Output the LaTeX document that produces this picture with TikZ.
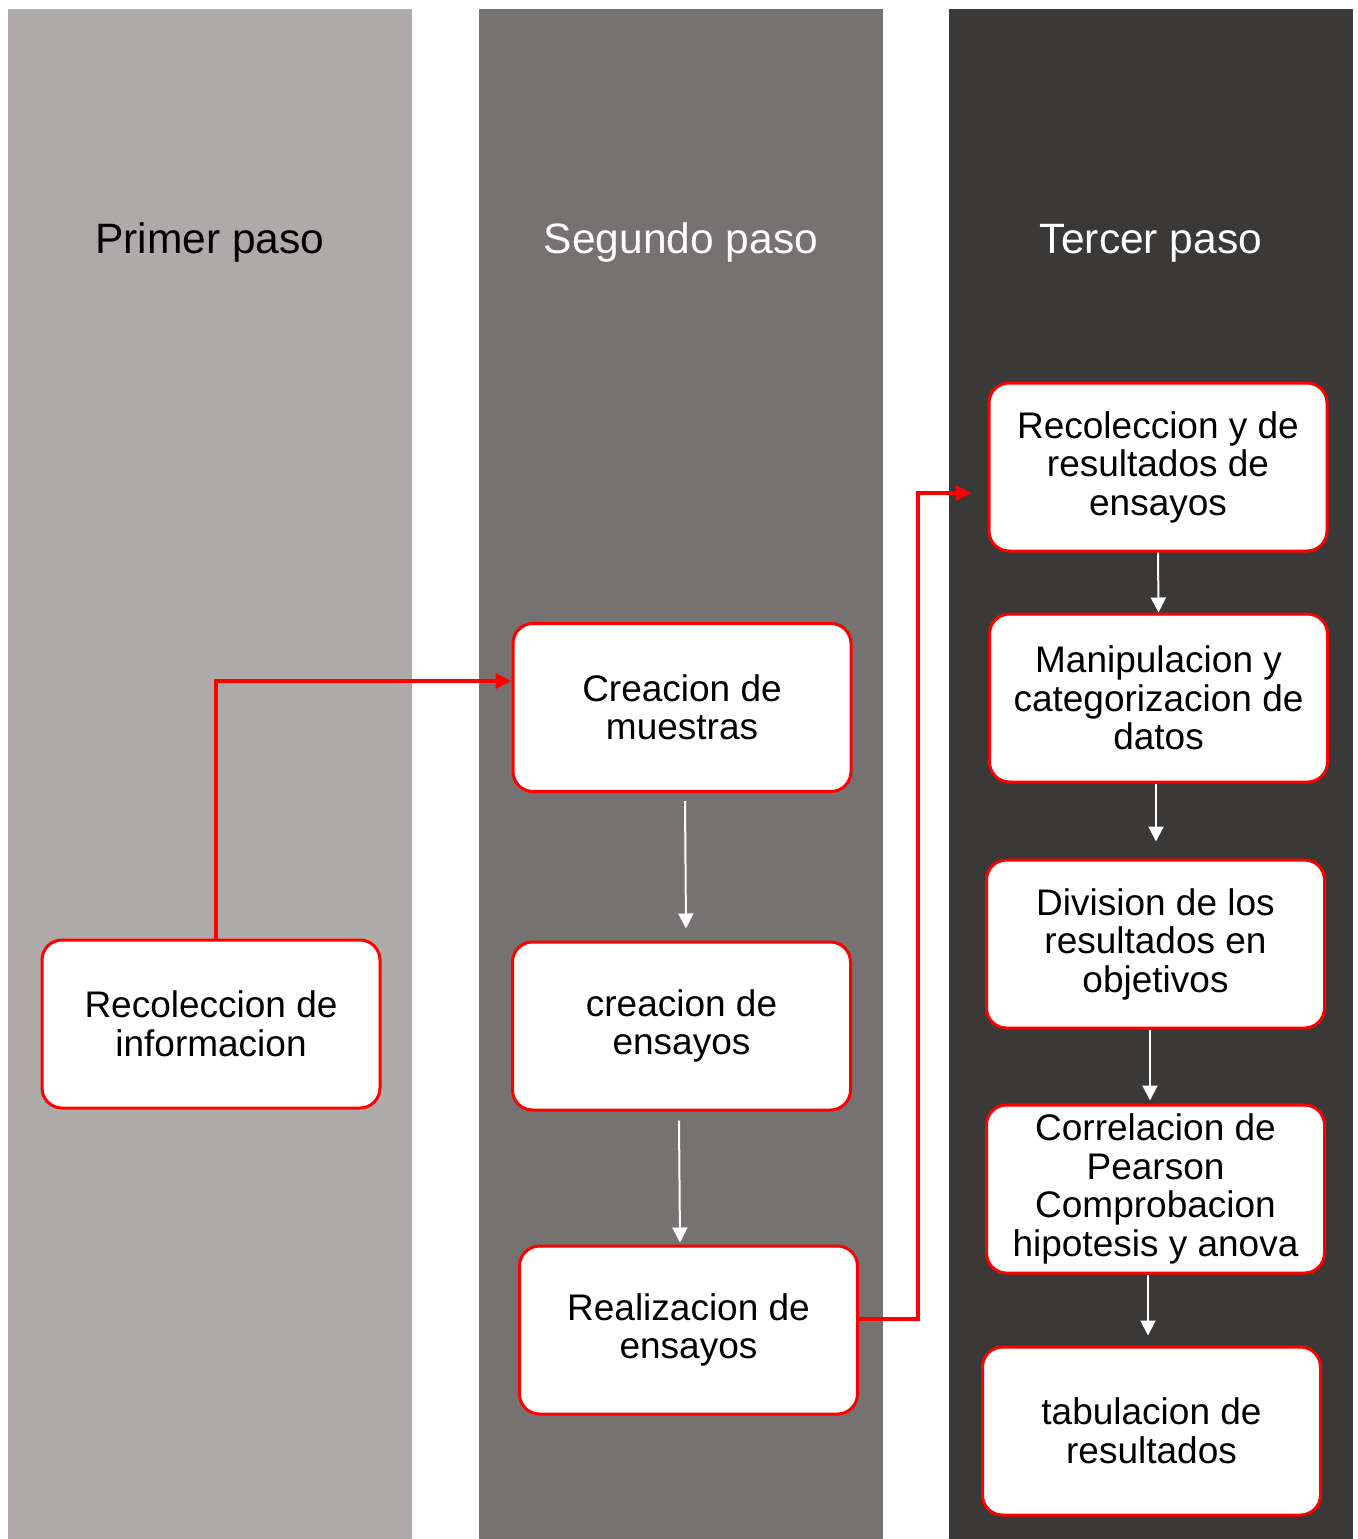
\documentclass[tikz,border=0pt]{standalone}
\usepackage{fontspec}
\setmainfont{Liberation Sans}
\usetikzlibrary{arrows.meta,calc}
\definecolor{colA}{HTML}{AEAAA9}
\definecolor{colB}{HTML}{767271}
\definecolor{colC}{HTML}{3B3938}
\definecolor{boxred}{HTML}{FF0000}
\tikzset{
  stepbox/.style={draw=boxred, line width=3pt, fill=white, rounded corners=20pt,
    minimum width=338pt, minimum height=168pt, inner sep=0pt, align=center,
    font=\fontsize{37}{38.5}\selectfont, text=black},
  colhead/.style={font=\fontsize{42.5}{48}\selectfont, anchor=center},
  redarrow/.style={draw=boxred, line width=3.8pt, -{Triangle[length=16pt,width=15pt]}},
  whitearrow/.style={draw=white, line width=2pt, -{Triangle[length=15pt,width=15pt]}}
}
\begin{document}
\begin{tikzpicture}[x=1pt,y=-1pt]
\useasboundingbox (0,0) rectangle (1357,1539);
\fill[white] (0,0) rectangle (1357,1539);
% columns
\fill[colA] (8,9) rectangle (412,1539);
\fill[colB] (479,9) rectangle (883,1539);
\fill[colC] (949,9) rectangle (1353,1539);
% headers
\node[colhead, text=black] (h1) at (210,243) {Primer paso};
\node[colhead, text=white] (h2) at (681,243) {Segundo paso};
\node[colhead, text=white] (h3) at (1151,243) {Tercer paso};
% boxes
\node[stepbox] (info) at (211,1024) {Recoleccion de\\informacion};
\node[stepbox] (mue) at (682,707.5) {Creacion de\\muestras};
\node[stepbox] (ens) at (681.5,1026) {creacion de\\ensayos};
\node[stepbox] (real) at (688.5,1330) {Realizacion de\\ensayos};
\node[stepbox] (r1) at (1158,467) {Recoleccion y de\\resultados de\\ensayos};
\node[stepbox] (r2) at (1158.5,698) {Manipulacion y\\categorizacion de\\datos};
\node[stepbox] (r3) at (1155.5,944) {Division de los\\resultados en\\objetivos};
\node[stepbox] (r4) at (1155.5,1189) {Correlacion de\\Pearson\\Comprobacion\\hipotesis y anova};
\node[stepbox] (r5) at (1151.5,1431) {tabulacion de\\resultados};
% red connectors
\draw[redarrow] ($(info.north)+(5,0)$) |- ($(mue.west)+(0,-26.5)$);
\draw[redarrow] ($(real.east)+(0,-11)$) -- ++(59,0) |- ($(r1.west)+(-16,26)$);
% white arrows
\draw[whitearrow] ($(mue.south)+(3,8)$) -- ($(ens.north)+(4.5,-12)$);
\draw[whitearrow] ($(ens.south)+(-2.5,9)$) -- ($(real.north)+(-8.5,-2)$);
\draw[whitearrow] (r1.south) -- (r2.north);
\draw[whitearrow] ($(r2.south)+(-2.5,0)$) -- ($(r3.north)+(0.5,-17)$);
\draw[whitearrow] ($(r3.south)+(-5.5,0)$) -- ($(r4.north)+(-5.5,-3)$);
\draw[whitearrow] ($(r4.south)+(-7.5,0)$) -- ($(r5.north)+(-3.5,-10)$);
\end{tikzpicture}
\end{document}
